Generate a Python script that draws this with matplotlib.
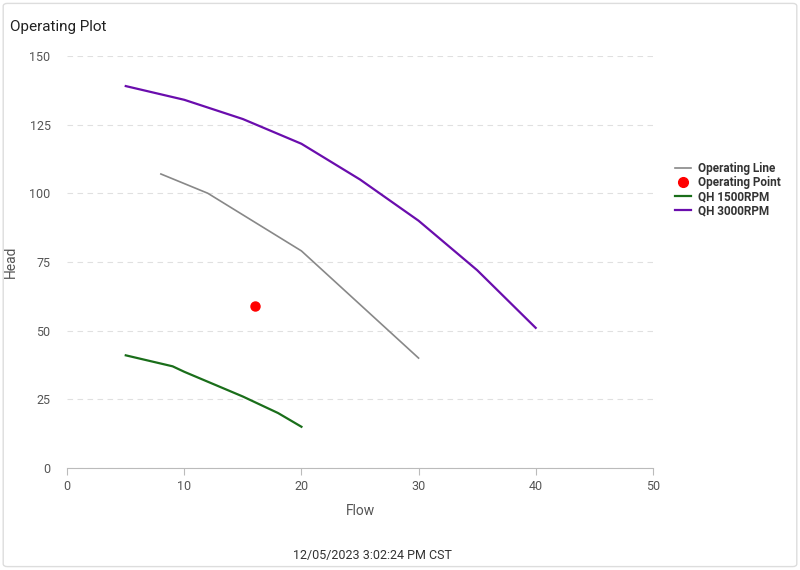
import matplotlib.pyplot as plt
from matplotlib.patches import FancyBboxPatch
from matplotlib.lines import Line2D

plt.rcParams['font.family'] = ['Roboto', 'DejaVu Sans']

# data
op_line_x = [8, 12, 20, 30]
op_line_y = [107, 100, 79, 40]
op_point_x = [16]
op_point_y = [59]
qh1500_x = [5, 9, 10, 15, 18, 20]
qh1500_y = [41, 37, 35, 26, 20, 15]
qh3000_x = [5, 10, 15, 20, 25, 30, 35, 40]
qh3000_y = [139, 134, 127, 118, 105, 90, 72, 51]

fig = plt.figure(figsize=(8, 5.7), dpi=100)
fig.patches.append(FancyBboxPatch((0.004, 0.006), 0.992, 0.988, boxstyle="round,pad=0,rounding_size=0.005",
                                  transform=fig.transFigure, fc='none', ec='#dddddd', lw=1, zorder=-1))
ax = fig.add_axes([0.084, 0.179, 0.732, 0.723])

ax.plot(op_line_x, op_line_y, color='#888888', lw=1.2, label='Operating Line')
ax.plot(op_point_x, op_point_y, 'o', color='#ff0000', ms=6.5, label='Operating Point')
ax.plot(qh1500_x, qh1500_y, color='#1a6e1a', lw=1.6, label='QH 1500RPM')
ax.plot(qh3000_x, qh3000_y, color='#6a0dad', lw=1.6, label='QH 3000RPM')

ax.set_xlim(0, 50)
ax.set_ylim(0, 150)
ax.set_xticks([0, 10, 20, 30, 40, 50])
ax.set_yticks([0, 25, 50, 75, 100, 125, 150])
ax.grid(axis='y', color='#e0e0e0', ls=(0, (5, 4)), lw=0.8)
ax.set_axisbelow(True)
for s in ['top', 'right', 'left']:
    ax.spines[s].set_visible(False)
ax.spines['bottom'].set_color('#bbbbbb')
ax.tick_params(axis='y', length=0, labelsize=9, colors='#555555', pad=12)
ax.tick_params(axis='x', length=5, color='#bbbbbb', labelsize=9, colors='#555555')
ax.set_xlabel('Flow', fontsize=10, color='#555555', labelpad=8)
ax.set_ylabel('Head', fontsize=10, color='#555555', labelpad=8)

handles = [Line2D([], [], color='#888888', lw=1.2),
           Line2D([], [], marker='o', ls='', color='#ff0000', ms=7),
           Line2D([], [], color='#1a6e1a', lw=1.6),
           Line2D([], [], color='#6a0dad', lw=1.6)]
labels = ['Operating Line', 'Operating Point', 'QH 1500RPM', 'QH 3000RPM']
leg = fig.legend(handles, labels, loc='upper left', bbox_to_anchor=(0.83, 0.735), frameon=False,
                 handlelength=1.4, labelspacing=0.1, handletextpad=0.6,
                 prop={'weight': 'bold', 'size': 8.5})
for t in leg.get_texts():
    t.set_color('#333333')

fig.text(0.012, 0.952, 'Operating Plot', fontsize=11, color='#222222', va='center')
fig.text(0.465, 0.026, '12/05/2023 3:02:24 PM CST', fontsize=9, color='#333333', ha='center', va='center')

fig.savefig('out.png', dpi=100)
